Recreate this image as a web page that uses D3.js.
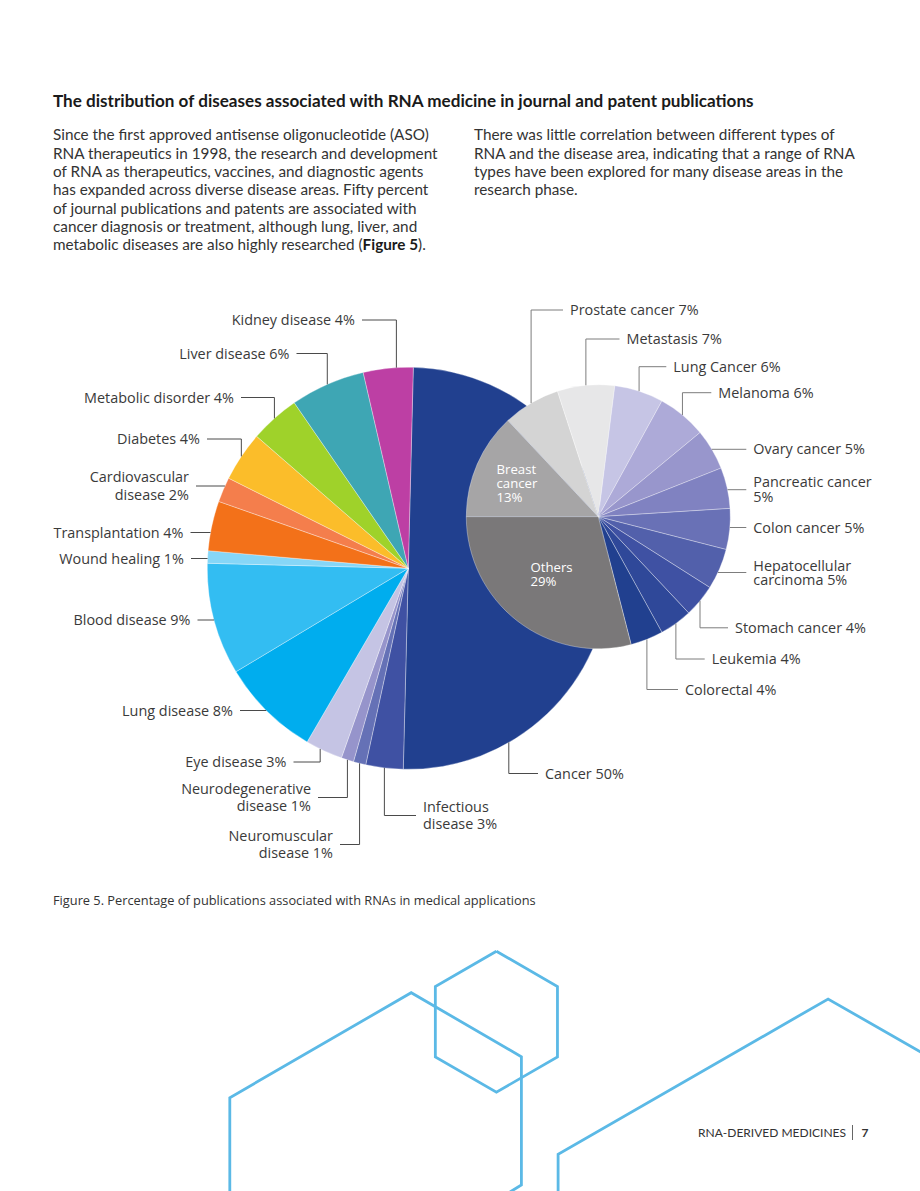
<!DOCTYPE html>
<html>
<head>
<meta charset="utf-8">
<script src="https://cdn.jsdelivr.net/npm/d3@7"></script>
<style>
	html, body { margin: 0; padding: 0; background: #fff; }
	svg { display: block; }
	.title { font-family: Lato, sans-serif; font-weight: 700; font-size: 17.1px; fill: #1a1a1a; }
	.para { font-family: Lato, sans-serif; font-size: 15.3px; fill: #333; }
	.label { font-family: 'Open Sans', sans-serif; font-size: 14.4px; fill: #3a3a3a; }
	.inner { font-family: 'Open Sans', sans-serif; font-size: 13.2px; fill: #fff; }
	.caption { font-family: 'Open Sans', sans-serif; font-size: 12.8px; fill: #333; }
	.footer { font-family: Lato, sans-serif; font-size: 12px; fill: #333; }
</style>
</head>
<body>
<svg id="page"></svg>
<script>
// ---- data ----
const mainLabels = ['Cancer', 'Infectious disease', 'Neuromuscular disease', 'Neurodegenerative disease',
	'Eye disease', 'Lung disease', 'Blood disease', 'Wound healing', 'Transplantation',
	'Cardiovascular disease', 'Diabetes', 'Metabolic disorder', 'Liver disease', 'Kidney disease']
const mainValues = [50, 3, 1, 1, 3, 8, 9, 1, 4, 2, 4, 4, 6, 4]

const cancerLabels = ['Breast cancer', 'Prostate cancer', 'Metastasis', 'Lung Cancer', 'Melanoma',
	'Ovary cancer', 'Pancreatic cancer', 'Colon cancer', 'Hepatocellular carcinoma',
	'Stomach cancer', 'Leukemia', 'Colorectal', 'Others']
const cancerValues = [13, 7, 7, 6, 6, 5, 5, 5, 5, 4, 4, 4, 29]

const title = 'The distribution of diseases associated with RNA medicine in journal and patent publications'
const leftPara = [
	'Since the first approved antisense oligonucleotide (ASO)',
	'RNA therapeutics in 1998, the research and development',
	'of RNA as therapeutics, vaccines, and diagnostic agents',
	'has expanded across diverse disease areas. Fifty percent',
	'of journal publications and patents are associated with',
	'cancer diagnosis or treatment, although lung, liver, and',
	'metabolic diseases are also highly researched ('
]
const rightPara = [
	'There was little correlation between different types of',
	'RNA and the disease area, indicating that a range of RNA',
	'types have been explored for many disease areas in the',
	'research phase.'
]
const caption = 'Figure 5. Percentage of publications associated with RNAs in medical applications'

// ---- styles / layout ----
const mainColors = ['#21408f', '#3f51a3', '#6571b6', '#9694cb', '#c5c4e4', '#00adee', '#33bdf2',
	'#86d6f7', '#f37119', '#f47e4c', '#fbbd2a', '#9fd22a', '#3ea6b4', '#bd3fa4']
const cancerColors = ['#a6a5a6', '#d4d4d4', '#e7e7e8', '#c6c5e5', '#adaad8', '#9896cc', '#8082c1',
	'#6971b6', '#5260ab', '#3f51a3', '#2f4899', '#21408f', '#7a7879']

// label placement: text anchor x, block centre y
const mainLayout = [
	{ x: 545, y: 773.5, anchor: 'start', type: 'v', angle: 150 },
	{ x: 423, y: 815.5, anchor: 'start', type: 'v', lh: 17.6, lines: [1, 2] },
	{ x: 333, y: 844.5, anchor: 'end', type: 'v', lh: 17.6, lines: [1, 2] },
	{ x: 311, y: 797.5, anchor: 'end', type: 'v', lh: 17.6, lines: [1, 2] },
	{ x: 286.5, y: 762, anchor: 'end', type: 'v', angle: 206 },
	{ x: 233, y: 710.5, anchor: 'end', type: 'h' },
	{ x: 190.5, y: 620, anchor: 'end', type: 'h' },
	{ x: 184, y: 558.5, anchor: 'end', type: 'h' },
	{ x: 183.5, y: 532.5, anchor: 'end', type: 'h' },
	{ x: 189, y: 486, anchor: 'end', type: 'h', lh: 18.3, lines: [1, 2] },
	{ x: 200, y: 439, anchor: 'end', type: 'v' },
	{ x: 234, y: 397.5, anchor: 'end', type: 'v' },
	{ x: 289.5, y: 353.5, anchor: 'end', type: 'v' },
	{ x: 355, y: 320, anchor: 'end', type: 'v', angle: -3.4 }
]
const cancerLayout = [
	{ x: 496.5, y: 483.3, anchor: 'start', type: 'in', lh: 14.2, lines: [1, 1, 1] },
	{ x: 570, y: 310, anchor: 'start', type: 'v' },
	{ x: 626.5, y: 339, anchor: 'start', type: 'v' },
	{ x: 673.3, y: 366.7, anchor: 'start', type: 'v' },
	{ x: 718.3, y: 392.7, anchor: 'start', type: 'v' },
	{ x: 753.3, y: 449.3, anchor: 'start', type: 'h' },
	{ x: 753.3, y: 489.7, anchor: 'start', type: 'h', lh: 14.5, lines: [2, 1] },
	{ x: 753.3, y: 527.5, anchor: 'start', type: 'h' },
	{ x: 753.3, y: 572.5, anchor: 'start', type: 'h', lh: 14, lines: [1, 2] },
	{ x: 735, y: 627.8, anchor: 'start', type: 'v' },
	{ x: 711.7, y: 659, anchor: 'start', type: 'v' },
	{ x: 685, y: 689.5, anchor: 'start', type: 'v' },
	{ x: 530.5, y: 574, anchor: 'start', type: 'in', lh: 14.2, lines: [1, 1] }
]

const W = 920, H = 1191
const svg = d3.select('#page').attr('width', W).attr('height', H)

// ---- heading and text ----
svg.append('text').attr('class', 'title')
	.attr('x', 53).attr('y', 101).attr('dy', '0.35em')
	.text(title)

function paragraph(lines, x, y0) {
	const t = svg.append('text').attr('class', 'para')
	lines.forEach((line, i) => {
		t.append('tspan').attr('x', x).attr('y', y0 + i * 18.35).attr('dy', '0.35em').text(line)
	})
	return t
}
const lp = paragraph(leftPara, 53, 135)
lp.append('tspan').attr('font-weight', 700).attr('fill', '#1a1a1a').text('Figure 5')
lp.append('tspan').text(').')
paragraph(rightPara, 474, 135)

// ---- pies ----
function drawPie(values, colors, layout, labels, cx, cy, R, start, lineColor) {
	const pie = d3.pie().sort(null).value(d => d)
		.startAngle(start).endAngle(start + 2 * Math.PI)
	const arcs = pie(values)
	const arc = d3.arc().innerRadius(0).outerRadius(R)

	const g = svg.append('g')
	g.append('g')
		.attr('transform', `translate(${cx},${cy})`)
		.selectAll('path')
		.data(arcs)
		.join('path')
		.attr('d', arc)
		.attr('fill', (d, i) => colors[i])
		.attr('stroke', 'rgba(255,255,255,0.55)')
		.attr('stroke-width', 0.6)

	const gap = 7
	const line = d3.line()

	arcs.forEach((d, i) => {
		const L = layout[i]
		const dir = L.anchor === 'end' ? -1 : 1
		if (L.type !== 'in') {
			const end = L.x - dir * gap
			let pts
			if (L.type === 'v') {
				const a = L.angle != null ? L.angle * Math.PI / 180 : (d.startAngle + d.endAngle) / 2
				const ex = cx + R * Math.sin(a), ey = cy - R * Math.cos(a)
				pts = [[ex, ey], [ex, L.y], [end, L.y]]
			} else {
				const dy = L.y - cy
				const ex = cx + dir * Math.sqrt(R * R - dy * dy)
				pts = [[ex, L.y], [end, L.y]]
			}
			g.append('path')
				.attr('d', line(pts))
				.attr('fill', 'none')
				.attr('stroke', lineColor)
				.attr('stroke-width', 1)
		}

		const words = `${labels[i]} ${d.data}%`.split(' ')
		const counts = L.lines || [words.length]
		const rows = []
		let k = 0
		counts.forEach(c => { rows.push(words.slice(k, k + c).join(' ')); k += c })
		const lh = L.lh || 17.6
		const t = g.append('text')
			.attr('class', L.type === 'in' ? 'inner' : 'label')
			.attr('text-anchor', L.anchor)
		rows.forEach((r, j) => {
			t.append('tspan')
				.attr('x', L.x)
				.attr('y', L.y + (j - (rows.length - 1) / 2) * lh)
				.attr('dy', '0.35em')
				.text(r)
		})
	})
}

drawPie(mainValues, mainColors, mainLayout, mainLabels, 408.3, 568.3, 201, 0.025, '#4a4a4a')
drawPie(cancerValues, cancerColors, cancerLayout, cancerLabels, 598.3, 516.7, 132, -Math.PI / 2, '#7d7d7d')

// ---- caption ----
svg.append('text').attr('class', 'caption')
	.attr('x', 53).attr('y', 901).attr('dy', '0.35em')
	.text(caption)

// ---- decorative hexagon outlines ----
const hexSmall = d3.range(6).map(k => {
	const a = k * Math.PI / 3
	return [496.4 + 70.5 * Math.sin(a), 1021.7 - 70.5 * Math.cos(a)]
})
hexSmall.push(hexSmall[0])
const decor = [
	hexSmall,
	[[229.8, 1200], [229.8, 1097.7], [411.2, 992.7], [521.4, 1056.7], [521.4, 1185], [510, 1192]],
	[[558.1, 1200], [558.1, 1154.3], [828.1, 999], [925, 1054.5]]
]
svg.append('g')
	.selectAll('path')
	.data(decor)
	.join('path')
	.attr('d', d3.line())
	.attr('fill', 'none')
	.attr('stroke', '#5bb9e6')
	.attr('stroke-width', 2.8)
	.attr('stroke-linejoin', 'miter')

// ---- footer ----
svg.append('text').attr('class', 'footer')
	.attr('x', 698).attr('y', 1132.5).attr('dy', '0.35em')
	.text('RNA-DERIVED MEDICINES')
svg.append('line')
	.attr('x1', 852.5).attr('x2', 852.5).attr('y1', 1125).attr('y2', 1140)
	.attr('stroke', '#555').attr('stroke-width', 0.9)
svg.append('text').attr('class', 'footer')
	.attr('x', 861.5).attr('y', 1132.5).attr('dy', '0.35em')
	.attr('font-weight', 700)
	.text('7')
</script>
</body>
</html>
